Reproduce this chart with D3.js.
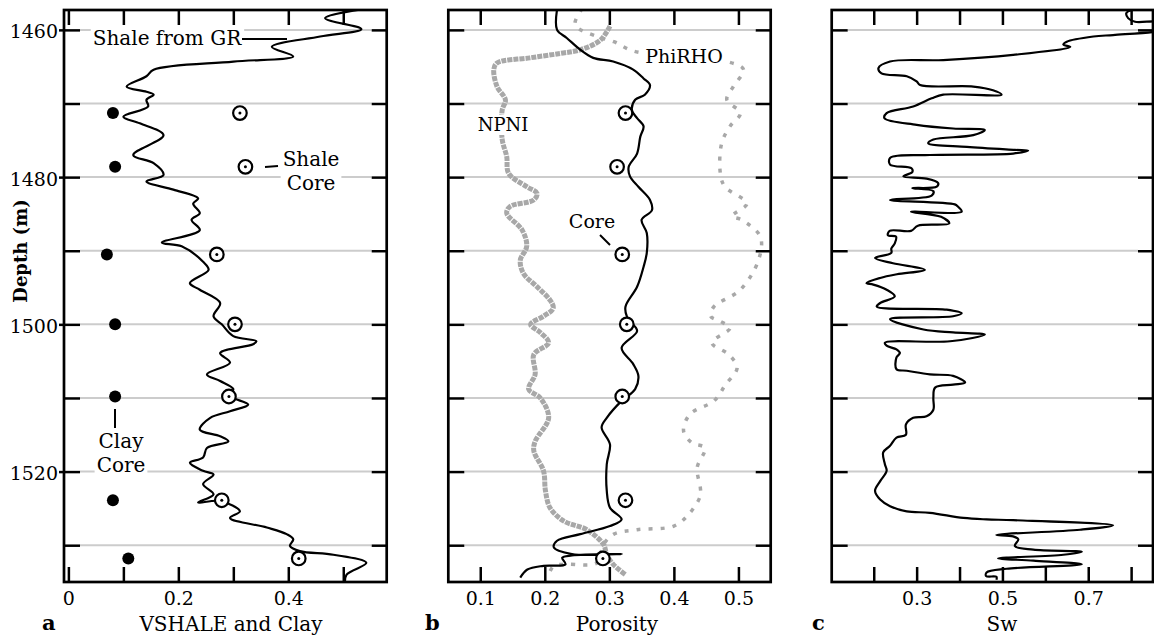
<!DOCTYPE html>
<html>
<head>
<meta charset="utf-8">
<script src="https://cdn.jsdelivr.net/npm/d3@7"></script>
<style>
body { margin: 0; background: #fff; }
svg text { font-family: "DejaVu Serif", serif; fill: #000; }
</style>
</head>
<body>
<div id="canvas"></div>
<script>
// ---- data ----
const depthTicks = [1460, 1470, 1480, 1490, 1500, 1510, 1520, 1530];
const depthLabels = [1460, 1480, 1500, 1520];
const vshTicks = [0, 0.1, 0.2, 0.3, 0.4, 0.5];
const vshLabels = [0, 0.2, 0.4];
const porTicks = [0.1, 0.2, 0.3, 0.4, 0.5];
const porLabels = [0.1, 0.2, 0.3, 0.4, 0.5];
const swTicks = [0.2, 0.3, 0.4, 0.5, 0.6, 0.7, 0.8];
const swLabels = [0.3, 0.5, 0.7];

// core samples
const coreDepth = [1471.3, 1478.6, 1490.5, 1500.0, 1509.8, 1523.9, 1531.8];
const shaleCore = [0.312, 0.322, 0.270, 0.303, 0.292, 0.279, 0.419];
const clayCore = [0.081, 0.085, 0.070, 0.085, 0.085, 0.081, 0.109];
const corePorosity = [0.325, 0.312, 0.320, 0.327, 0.320, 0.325, 0.290];

// logs as [depth, value]
const shaleGR = [[1457.2,0.535],[1458.4,0.467],[1459.9,0.533],[1460.9,0.458],[1462.3,0.370],[1463.6,0.409],[1464.3,0.300],[1465.4,0.155],[1466.3,0.142],[1467.7,0.106],[1468.4,0.142],[1468.8,0.155],[1469.5,0.142],[1470.4,0.145],[1471.8,0.100],[1472.7,0.130],[1474.3,0.173],[1477.0,0.118],[1478.1,0.155],[1479.7,0.173],[1480.6,0.142],[1481.7,0.191],[1482.9,0.236],[1483.6,0.227],[1484.9,0.239],[1485.8,0.224],[1487.2,0.239],[1488.9,0.170],[1489.4,0.206],[1491.5,0.245],[1492.6,0.255],[1494.4,0.221],[1495.3,0.239],[1497.1,0.276],[1498.9,0.264],[1500.0,0.279],[1501.6,0.300],[1502.3,0.342],[1502.7,0.336],[1503.9,0.276],[1505.2,0.294],[1506.8,0.252],[1507.7,0.276],[1508.8,0.300],[1509.7,0.294],[1510.9,0.327],[1511.8,0.294],[1512.7,0.258],[1514.3,0.239],[1515.2,0.276],[1515.9,0.291],[1516.8,0.252],[1518.1,0.245],[1518.8,0.221],[1519.9,0.245],[1520.4,0.264],[1521.7,0.245],[1523.1,0.264],[1524.2,0.236],[1524.0,0.276],[1525.4,0.312],[1526.3,0.294],[1527.6,0.361],[1528.5,0.397],[1529.2,0.409],[1530.1,0.403],[1530.8,0.421],[1531.3,0.482],[1532.4,0.542],[1534.0,0.506],[1535.2,0.503]];

const porosityLog = [[1457.2,0.219],[1460.0,0.219],[1461.1,0.234],[1462.7,0.255],[1463.8,0.275],[1464.3,0.306],[1465.4,0.337],[1466.6,0.353],[1467.5,0.363],[1468.8,0.355],[1469.5,0.340],[1470.9,0.335],[1472.0,0.343],[1473.1,0.353],[1474.5,0.348],[1476.8,0.343],[1478.6,0.330],[1479.9,0.332],[1481.3,0.345],[1483.1,0.363],[1484.5,0.366],[1485.8,0.350],[1487.6,0.358],[1490.3,0.358],[1492.2,0.353],[1494.9,0.343],[1497.6,0.325],[1498.9,0.327],[1499.6,0.332],[1500.9,0.343],[1503.2,0.319],[1505.4,0.337],[1507.0,0.345],[1508.8,0.340],[1510.4,0.319],[1512.7,0.296],[1514.0,0.288],[1516.3,0.301],[1519.0,0.296],[1522.6,0.296],[1524.9,0.301],[1526.5,0.319],[1527.4,0.301],[1528.5,0.255],[1529.4,0.219],[1530.3,0.214],[1531.2,0.242],[1531.2,0.319],[1531.4,0.242],[1531.7,0.227],[1532.6,0.232],[1532.8,0.198],[1533.3,0.173],[1534.4,0.162]];

const npni = [[1459.5,0.301],[1461.4,0.286],[1462.7,0.255],[1463.2,0.224],[1463.8,0.177],[1464.5,0.126],[1465.4,0.121],[1467.7,0.126],[1469.5,0.139],[1470.9,0.134],[1474.9,0.134],[1477.2,0.141],[1479.5,0.144],[1481.3,0.172],[1482.2,0.188],[1483.1,0.183],[1484.0,0.146],[1484.9,0.141],[1487.2,0.165],[1489.4,0.172],[1491.3,0.162],[1493.1,0.167],[1494.9,0.188],[1496.7,0.208],[1497.8,0.213],[1498.9,0.198],[1500.0,0.178],[1501.1,0.193],[1502.5,0.206],[1504.1,0.183],[1506.8,0.185],[1508.8,0.175],[1510.0,0.193],[1512.7,0.206],[1515.9,0.185],[1517.2,0.183],[1519.9,0.198],[1522.6,0.201],[1524.9,0.208],[1526.7,0.229],[1527.9,0.265],[1529.9,0.291],[1531.3,0.296],[1532.6,0.306],[1534.0,0.325]];

const phiRho = [[1457.1,0.258],[1459.3,0.247],[1460.9,0.281],[1461.6,0.307],[1462.9,0.338],[1464.3,0.482],[1465.4,0.508],[1467.7,0.492],[1469.5,0.482],[1471.3,0.503],[1473.1,0.487],[1475.4,0.474],[1479.5,0.472],[1481.3,0.479],[1483.6,0.513],[1485.3,0.490],[1485.8,0.505],[1488.1,0.534],[1491.3,0.531],[1495.3,0.503],[1497.6,0.462],[1498.9,0.457],[1499.6,0.472],[1500.5,0.487],[1502.5,0.459],[1504.1,0.485],[1505.9,0.498],[1508.2,0.480],[1510.4,0.462],[1512.2,0.425],[1514.5,0.415],[1516.1,0.428],[1516.8,0.448],[1519.5,0.436],[1522.2,0.441],[1523.3,0.441],[1525.8,0.423],[1527.4,0.400],[1527.9,0.343],[1528.5,0.307],[1529.9,0.291],[1532.4,0.281],[1532.6,0.234],[1532.8,0.214],[1534.0,0.206]];

const swLog = [[1457.2,0.812],[1457.7,0.789],[1458.4,0.793],[1458.9,0.809],[1459.0,0.87],[1460.1,0.87],[1460.3,0.849],[1460.7,0.758],[1460.9,0.712],[1461.6,0.650],[1462.0,0.642],[1462.3,0.658],[1463.4,0.525],[1464.1,0.362],[1464.3,0.238],[1465.2,0.211],[1465.9,0.218],[1466.3,0.277],[1467.0,0.300],[1467.5,0.308],[1467.7,0.432],[1468.2,0.478],[1468.8,0.498],[1468.8,0.362],[1469.3,0.335],[1470.4,0.292],[1471.3,0.230],[1472.0,0.225],[1472.9,0.300],[1473.4,0.385],[1473.6,0.459],[1474.3,0.432],[1474.9,0.339],[1475.4,0.327],[1475.9,0.417],[1476.3,0.529],[1476.4,0.560],[1476.8,0.525],[1477.0,0.331],[1477.4,0.238],[1478.3,0.238],[1478.8,0.288],[1479.3,0.290],[1479.9,0.269],[1480.2,0.323],[1480.8,0.350],[1481.3,0.347],[1481.5,0.290],[1481.9,0.339],[1482.5,0.335],[1483.1,0.238],[1483.7,0.389],[1484.0,0.396],[1484.7,0.405],[1484.7,0.287],[1485.4,0.357],[1486.3,0.376],[1486.6,0.303],[1487.3,0.287],[1487.3,0.237],[1487.9,0.233],[1488.1,0.252],[1489.0,0.249],[1489.7,0.241],[1490.3,0.241],[1491.0,0.203],[1491.7,0.245],[1492.6,0.319],[1493.2,0.254],[1493.7,0.215],[1494.4,0.183],[1494.6,0.199],[1495.3,0.230],[1496.2,0.249],[1497.1,0.215],[1497.6,0.207],[1498.0,0.370],[1498.5,0.405],[1498.9,0.385],[1499.3,0.238],[1500.7,0.316],[1501.1,0.385],[1501.4,0.459],[1502.3,0.378],[1502.5,0.226],[1502.9,0.230],[1503.4,0.253],[1503.9,0.261],[1504.5,0.253],[1506.1,0.253],[1506.3,0.277],[1506.8,0.331],[1507.0,0.385],[1507.9,0.413],[1508.2,0.385],[1508.6,0.343],[1510.0,0.339],[1511.6,0.339],[1512.5,0.323],[1512.7,0.292],[1513.6,0.275],[1515.0,0.275],[1515.4,0.253],[1516.5,0.238],[1517.4,0.222],[1519.0,0.226],[1519.9,0.230],[1521.3,0.215],[1522.6,0.203],[1523.8,0.215],[1524.7,0.238],[1525.4,0.277],[1525.6,0.331],[1526.3,0.409],[1526.5,0.463],[1526.6,0.525],[1527.3,0.758],[1527.9,0.681],[1528.6,0.486],[1528.8,0.525],[1529.2,0.537],[1530.1,0.529],[1530.6,0.572],[1530.9,0.685],[1531.3,0.642],[1531.8,0.490],[1532.1,0.572],[1532.6,0.685],[1533.2,0.510],[1533.7,0.463],[1534.2,0.462],[1534.3,0.486],[1534.7,0.486]];

// ---- layout ----
const width = 1154;
const height = 639;
const plotTop = 10;
const plotBottom = 582;

const svg = d3.select("#canvas").append("svg")
    .attr("width", width)
    .attr("height", height);
const defs = svg.append("defs");

const y = d3.scaleLinear().domain([1457.3, 1535]).range([plotTop, plotBottom]);

function styleAxis(sel) {
    sel.select(".domain").remove();
    sel.attr("font-family", "DejaVu Serif, serif").attr("font-size", 19);
    sel.selectAll(".tick line").attr("stroke", "#000").attr("stroke-width", 2.5);
    sel.selectAll(".tick text").attr("fill", "#000");
}

function makePanel(id, x0, x1, domain, ticks, labels) {
    const x = d3.scaleLinear().domain(domain).range([x0, x1]);
    const g = svg.append("g");

    defs.append("clipPath").attr("id", "clip-" + id)
        .append("rect")
        .attr("x", x0).attr("y", plotTop)
        .attr("width", x1 - x0).attr("height", plotBottom - plotTop);

    g.selectAll("line.grid").data(depthTicks).enter().append("line")
        .attr("class", "grid")
        .attr("x1", x0 + 16).attr("x2", x1 - 15)
        .attr("y1", d => y(d)).attr("y2", d => y(d))
        .attr("stroke", "#cccccc").attr("stroke-width", 2);

    g.append("g").attr("transform", `translate(0,${plotBottom})`)
        .call(d3.axisBottom(x).tickValues(ticks).tickSize(-15).tickPadding(10)
            .tickFormat(d => labels.includes(d) ? String(d) : ""))
        .call(styleAxis);
    g.append("g").attr("transform", `translate(0,${plotTop})`)
        .call(d3.axisTop(x).tickValues(ticks).tickSize(-15).tickFormat(""))
        .call(styleAxis);
    g.append("g").attr("transform", `translate(${x0},0)`)
        .call(d3.axisLeft(y).tickValues(depthTicks).tickSize(-16).tickFormat(""))
        .call(styleAxis);
    g.append("g").attr("transform", `translate(${x1},0)`)
        .call(d3.axisRight(y).tickValues(depthTicks).tickSize(-15).tickFormat(""))
        .call(styleAxis);

    const plot = svg.append("g").attr("clip-path", `url(#clip-${id})`);
    return { x, g, plot, x0, x1 };
}

function drawLog(p, data, color, w, dash) {
    const line = d3.line()
        .x(d => p.x(d[1]))
        .y(d => y(d[0]))
        .curve(d3.curveCatmullRom.alpha(0.5));
    const path = p.plot.append("path").datum(data)
        .attr("d", line)
        .attr("fill", "none")
        .attr("stroke", color)
        .attr("stroke-width", w)
        .attr("stroke-linejoin", "round");
    if (dash) path.attr("stroke-dasharray", dash);
}

function drawCores(p, values) {
    const c = p.plot.append("g");
    c.selectAll("circle.ring").data(values).enter().append("circle")
        .attr("cx", d => p.x(d)).attr("cy", (d, i) => y(coreDepth[i]))
        .attr("r", 6.8).attr("fill", "#fff").attr("stroke", "#000").attr("stroke-width", 2.2);
    c.selectAll("circle.dot").data(values).enter().append("circle")
        .attr("cx", d => p.x(d)).attr("cy", (d, i) => y(coreDepth[i]))
        .attr("r", 1.5).attr("fill", "#000");
}

function note(lines, cx, baselines, size) {
    const t = svg.append("g");
    const txt = t.append("text").attr("text-anchor", "middle").attr("font-size", size);
    lines.forEach((s, i) => txt.append("tspan").attr("x", cx).attr("y", baselines[i]).text(s));
    const bb = txt.node().getBBox();
    t.insert("rect", "text")
        .attr("x", bb.x - 2).attr("y", bb.y + 1)
        .attr("width", bb.width + 4).attr("height", bb.height - 1)
        .attr("fill", "#fff");
}

function leader(x1, y1, x2, y2) {
    svg.append("line").attr("x1", x1).attr("y1", y1).attr("x2", x2).attr("y2", y2)
        .attr("stroke", "#000").attr("stroke-width", 2);
}

function frame(p) {
    svg.append("rect").attr("x", p.x0).attr("y", plotTop)
        .attr("width", p.x1 - p.x0).attr("height", plotBottom - plotTop)
        .attr("fill", "none").attr("stroke", "#000").attr("stroke-width", 2.7);
}

// ---- panel a ----
const pa = makePanel("a", 64, 386.7, [-0.008, 0.579], vshTicks, vshLabels);
// depth labels with small outside ticks
pa.g.append("g").attr("transform", "translate(64,0)")
    .call(d3.axisLeft(y).tickValues(depthLabels).tickSize(5).tickPadding(1).tickFormat(d3.format("d")))
    .call(styleAxis)
    .call(s => s.selectAll(".tick text").attr("dy", "0.42em"));
drawLog(pa, shaleGR, "#000", 2.2);
drawCores(pa, shaleCore);
pa.plot.selectAll("circle.clay").data(clayCore).enter().append("circle")
    .attr("class", "clay")
    .attr("cx", d => pa.x(d)).attr("cy", (d, i) => y(coreDepth[i]))
    .attr("r", 6).attr("fill", "#000");
note(["Shale from GR"], 167, [45], 20);
leader(242, 39, 287, 39);
note(["Shale", "Core"], 311, [166, 190], 20);
leader(265, 167, 278, 166);
note(["Clay", "Core"], 121, [448, 472], 20);
leader(115, 409, 115, 428);
frame(pa);

// ---- panel b ----
const pb = makePanel("b", 448.3, 770.7, [0.0505, 0.55], porTicks, porLabels);
drawLog(pb, phiRho, "#a8a8a8", 3.5, "4,8");
drawLog(pb, npni, "#a8a8a8", 5, "5,1");
drawLog(pb, porosityLog, "#000", 2.2);
drawCores(pb, corePorosity);
note(["PhiRHO"], 684, [63], 19);
note(["NPNI"], 503, [131], 18);
note(["Core"], 592, [228], 19);
leader(600, 235, 610, 245);
frame(pb);

// ---- panel c ----
const pc = makePanel("c", 831.7, 1153, [0.102, 0.851], swTicks, swLabels);
drawLog(pc, swLog, "#000", 2.2);
frame(pc);

// ---- titles ----
svg.append("text").attr("transform", "translate(27,251) rotate(-90)")
    .attr("text-anchor", "middle").attr("font-size", 18).attr("font-weight", "bold")
    .text("Depth (m)");
const titles = [
    { t: "VSHALE and Clay", x: 231, letter: "a", lx: 42 },
    { t: "Porosity", x: 617, letter: "b", lx: 425 },
    { t: "Sw", x: 1002, letter: "c", lx: 812 }
];
titles.forEach(d => {
    svg.append("text").attr("x", d.x).attr("y", 631).attr("text-anchor", "middle")
        .attr("font-size", 20).text(d.t);
    svg.append("text").attr("x", d.lx).attr("y", 630).attr("font-size", 21)
        .attr("font-weight", "bold").text(d.letter);
});
</script>
</body>
</html>
